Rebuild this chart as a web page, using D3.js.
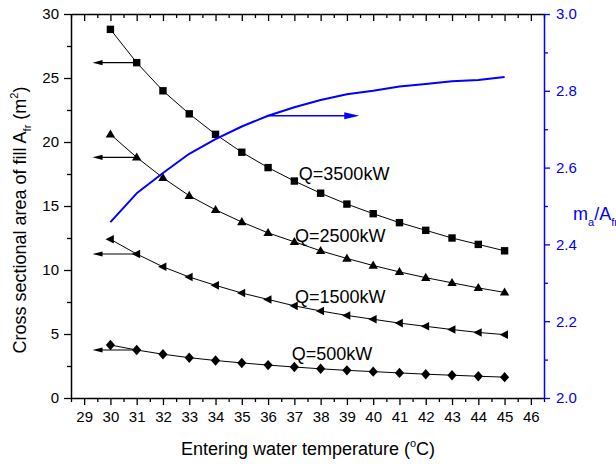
<!DOCTYPE html>
<html>
<head>
<meta charset="utf-8">
<script src="https://cdn.jsdelivr.net/npm/d3@7"></script>
<style>
  html, body { margin: 0; padding: 0; background: #fff; }
  svg { display: block; font-family: "Liberation Sans", Arial, sans-serif; }
</style>
</head>
<body>
<svg id="chart" width="616" height="464"></svg>
<script>
// Entering water temperature (°C)
const temperatures = [30, 31, 32, 33, 34, 35, 36, 37, 38, 39, 40, 41, 42, 43, 44, 45];

// Cross sectional area of fill A_fr (m²) for each heat load
const areaQ3500 = [28.8, 26.2, 24.0, 22.2, 20.6, 19.2, 18.0, 16.95, 16.0, 15.15, 14.4, 13.7, 13.1, 12.5, 12.0, 11.5];
const areaQ2500 = [20.6, 18.8, 17.2, 15.8, 14.7, 13.75, 12.9, 12.2, 11.5, 10.9, 10.35, 9.85, 9.4, 9.0, 8.6, 8.25];
const areaQ1500 = [12.4, 11.25, 10.25, 9.45, 8.8, 8.2, 7.7, 7.2, 6.8, 6.45, 6.15, 5.85, 5.6, 5.35, 5.12, 4.95];
const areaQ500  = [4.14, 3.75, 3.42, 3.15, 2.93, 2.74, 2.57, 2.42, 2.28, 2.16, 2.06, 1.96, 1.86, 1.78, 1.7, 1.63];

// Air mass flux m_a/A_fr (right axis)
const airFlux = [2.458, 2.533, 2.586, 2.636, 2.674, 2.707, 2.735, 2.757, 2.776, 2.791, 2.800, 2.811, 2.818, 2.825, 2.828, 2.836];

const loadLabels = ["Q=3500kW", "Q=2500kW", "Q=1500kW", "Q=500kW"];

// Tick values
const xTicks = [29, 30, 31, 32, 33, 34, 35, 36, 37, 38, 39, 40, 41, 42, 43, 44, 45, 46];
const xMinorTicks = [28.5, 29.5, 30.5, 31.5, 32.5, 33.5, 34.5, 35.5, 36.5, 37.5, 38.5, 39.5, 40.5, 41.5, 42.5, 43.5, 44.5, 45.5, 46.5];
const leftTicks = [0, 5, 10, 15, 20, 25, 30];
const leftMinorTicks = [2.5, 7.5, 12.5, 17.5, 22.5, 27.5];
const rightTicks = [2.0, 2.2, 2.4, 2.6, 2.8, 3.0];
const rightMinorTicks = [2.1, 2.3, 2.5, 2.7, 2.9];

// ---- layout ----
const plot = { left: 71, right: 544, top: 14, bottom: 398 };
const BLUE = "#0000ff";
const svg = d3.select("#chart");

const x = d3.scaleLinear().domain([28.5, 46.5]).range([plot.left, plot.right]);
const yL = d3.scaleLinear().domain([0, 30]).range([plot.bottom, plot.top]);
const yR = d3.scaleLinear().domain([2.0, 3.0]).range([plot.bottom, plot.top]);

function styleAxis(g, color, fontSize) {
  g.attr("font-family", null).attr("font-size", fontSize);
  g.selectAll(".domain").attr("stroke", color).attr("stroke-width", 1.5);
  g.selectAll(".tick line").attr("stroke", color).attr("stroke-width", 1.3);
  g.selectAll(".tick text").attr("fill", color);
}

// bottom axis
svg.append("g").attr("transform", `translate(0,${plot.bottom})`)
  .call(d3.axisBottom(x).tickValues(xTicks).tickSize(7).tickSizeOuter(0).tickPadding(6).tickFormat(d3.format("d")))
  .call(g => styleAxis(g, "#000", 15));
svg.append("g").attr("transform", `translate(0,${plot.bottom})`)
  .call(d3.axisBottom(x).tickValues(xMinorTicks).tickSize(4).tickFormat(""))
  .call(g => { styleAxis(g, "#000", 15); g.select(".domain").remove(); });

// top axis (ticks pointing inward)
svg.append("g").attr("transform", `translate(0,${plot.top})`)
  .call(d3.axisBottom(x).tickValues(xTicks).tickSize(7).tickSizeOuter(0).tickFormat(""))
  .call(g => styleAxis(g, "#000", 15));
svg.append("g").attr("transform", `translate(0,${plot.top})`)
  .call(d3.axisBottom(x).tickValues(xMinorTicks).tickSize(4).tickFormat(""))
  .call(g => { styleAxis(g, "#000", 15); g.select(".domain").remove(); });

// left axis
svg.append("g").attr("transform", `translate(${plot.left},0)`)
  .call(d3.axisLeft(yL).tickValues(leftTicks).tickSize(7).tickSizeOuter(0).tickPadding(5).tickFormat(d3.format("d")))
  .call(g => styleAxis(g, "#000", 15));
svg.append("g").attr("transform", `translate(${plot.left},0)`)
  .call(d3.axisLeft(yL).tickValues(leftMinorTicks).tickSize(4).tickFormat(""))
  .call(g => { styleAxis(g, "#000", 15); g.select(".domain").remove(); });

// right axis (blue)
svg.append("g").attr("transform", `translate(${plot.right},0)`)
  .call(d3.axisRight(yR).tickValues(rightTicks).tickSize(6).tickSizeOuter(0).tickPadding(6).tickFormat(d3.format(".1f")))
  .call(g => styleAxis(g, BLUE, 15));
svg.append("g").attr("transform", `translate(${plot.right},0)`)
  .call(d3.axisRight(yR).tickValues(rightMinorTicks).tickSize(4).tickFormat(""))
  .call(g => { styleAxis(g, BLUE, 15); g.select(".domain").remove(); });

// ---- marker shapes ----
const shapes = {
  square: "M-3.7,-3.7H3.7V3.7H-3.7Z",
  triUp: "M0,-4.9L4.7,3.2L-4.7,3.2Z",
  triLeft: "M-4.9,0L3.4,-4.3L3.4,4.3Z",
  diamond: "M0,-5.2L4.6,0L0,5.2L-4.6,0Z"
};

const series = [
  { values: areaQ3500, shape: "square", label: loadLabels[0] },
  { values: areaQ2500, shape: "triUp", label: loadLabels[1] },
  { values: areaQ1500, shape: "triLeft", label: loadLabels[2] },
  { values: areaQ500, shape: "diamond", label: loadLabels[3] }
];

const lineL = d3.line().x(d => x(d[0])).y(d => yL(d[1]));

// arrows pointing toward the left axis start at the 31 °C point
const arrowFromT = temperatures[1];
const arrowTipT = 29.32;

function arrowHead(g, tipX, tipY, dir, len, half, color) {
  g.append("path")
    .attr("d", `M${tipX},${tipY}L${tipX + dir * len},${tipY - half}L${tipX + dir * len},${tipY + half}Z`)
    .attr("fill", color);
}

series.forEach(s => {
  const pts = temperatures.map((t, i) => [t, s.values[i]]);
  const g = svg.append("g");
  g.append("path").attr("d", lineL(pts)).attr("fill", "none").attr("stroke", "#000").attr("stroke-width", 1);

  // arrow to left axis
  const ay = yL(s.values[1]);
  g.append("line")
    .attr("x1", x(arrowFromT)).attr("x2", x(arrowTipT) + 6)
    .attr("y1", ay).attr("y2", ay)
    .attr("stroke", "#000").attr("stroke-width", 1.1);
  arrowHead(g, x(arrowTipT), ay, 1, 10, 2.6, "#000");

  g.selectAll("path.mk").data(pts).join("path")
    .attr("class", "mk")
    .attr("d", shapes[s.shape])
    .attr("transform", d => `translate(${x(d[0])},${yL(d[1])})`)
    .attr("fill", "#000");
});

// series labels
const labelPos = [
  [37.17, 17.0],
  [37.02, 12.2],
  [37.02, 7.4],
  [36.9, 3.0]
];
series.forEach((s, i) => {
  svg.append("text")
    .attr("x", x(labelPos[i][0])).attr("y", yL(labelPos[i][1]))
    .attr("font-size", 18).attr("fill", "#000")
    .text(s.label);
});

// air mass flux curve on the right axis
const lineR = d3.line().x(d => x(d[0])).y(d => yR(d[1]));
const fluxPts = temperatures.map((t, i) => [t, airFlux[i]]);
svg.append("path").attr("d", lineR(fluxPts))
  .attr("fill", "none").attr("stroke", BLUE).attr("stroke-width", 2).attr("stroke-linejoin", "round");

// arrow pointing toward the right axis from the 36 °C point
const blueFromT = temperatures[6];
const blueTipT = 39.47;
const by = yR(airFlux[6]);
svg.append("line")
  .attr("x1", x(blueFromT)).attr("x2", x(blueTipT) - 8)
  .attr("y1", by).attr("y2", by)
  .attr("stroke", BLUE).attr("stroke-width", 1.3);
arrowHead(svg, x(blueTipT), by, -1, 15, 3.4, BLUE);

// ---- axis titles ----
const bottomTitle = svg.append("text")
  .attr("x", 308).attr("y", 455)
  .attr("text-anchor", "middle").attr("font-size", 18).attr("fill", "#000");
bottomTitle.append("tspan").text("Entering water temperature (");
bottomTitle.append("tspan").attr("font-size", 11).attr("dy", -8).text("o");
bottomTitle.append("tspan").attr("dy", 8).text("C)");

const leftTitle = svg.append("text")
  .attr("transform", "translate(26,220) rotate(-90)")
  .attr("text-anchor", "middle").attr("font-size", 18).attr("fill", "#000");
leftTitle.append("tspan").text("Cross sectional area of fill A");
leftTitle.append("tspan").attr("font-size", 11).attr("dy", 5).text("fr");
leftTitle.append("tspan").attr("dy", -5).text(" (m");
leftTitle.append("tspan").attr("font-size", 11).attr("dy", -8).text("2");
leftTitle.append("tspan").attr("dy", 8).text(")");

const rightTitle = svg.append("text")
  .attr("x", 573).attr("y", 220)
  .attr("font-size", 18).attr("fill", BLUE);
rightTitle.append("tspan").text("m");
rightTitle.append("tspan").attr("font-size", 11).attr("dy", 6).text("a");
rightTitle.append("tspan").attr("dy", -6).text("/A");
rightTitle.append("tspan").attr("font-size", 11).attr("dy", 6).text("fr");
</script>
</body>
</html>
